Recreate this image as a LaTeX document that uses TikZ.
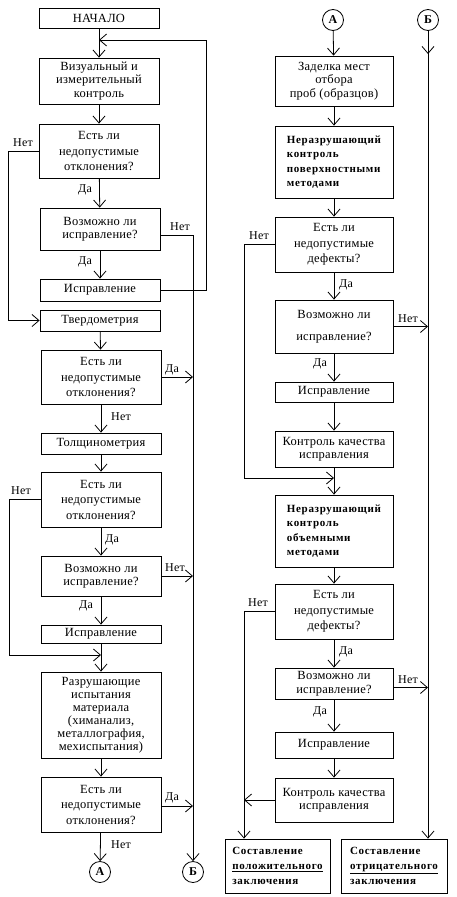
\documentclass[tikz,border=0pt]{standalone}
\usepackage{fontspec}
\setmainfont{Liberation Serif}[LetterSpace=2]
\newfontfamily\spbold[LetterSpace=6]{Liberation Serif}
\usetikzlibrary{arrows.meta}
\tikzset{
  box/.style={draw, line width=0.8pt, minimum width=120, align=center, inner sep=1pt,
    font=\fontsize{12.5}{13.5}\selectfont},
  rbox/.style={box, minimum width=118},
  bbox/.style={rbox, align=left, font=\spbold\bfseries\fontsize{11}{14.5}\selectfont},
  arr/.style={-{Straight Barb[length=7pt,width=12pt]}, line width=0.8pt},
  ln/.style={line width=0.8pt},
  lab/.style={font=\fontsize{12}{13}\selectfont, inner sep=0},
  conn/.style={draw, circle, minimum size=21, inner sep=0, line width=0.8pt,
    font=\bfseries\fontsize{12}{13}\selectfont},
  qfont/.style={font=\fontsize{12.5}{15.5}\selectfont},
}
\begin{document}
\begin{tikzpicture}[x=1pt,y=-1pt]
\useasboundingbox (0,0) rectangle (456,897);
% ---------- left column ----------
\node[box, minimum height=20] (start) at (99,18) {НАЧАЛО};
\node[box, minimum height=46] (vis) at (99,81) {Визуальный и\\измерительный\\контроль};
\node[box, minimum height=54, qfont] (q1) at (99,151) {Есть ли\\недопустимые\\отклонения?};
\node[box, minimum height=42] (p1) at (100,229) {Возможно ли\\исправление?};
\node[box, minimum height=22] (fix1) at (100,290) {Исправление};
\node[box, minimum height=21] (tv) at (100,320.5) {Твердометрия};
\node[box, minimum height=54, qfont] (q2) at (101,377) {Есть ли\\недопустимые\\отклонения?};
\node[box, minimum height=21] (tl) at (101,443.5) {Толщинометрия};
\node[box, minimum height=55, qfont] (q3) at (101,499.5) {Есть ли\\недопустимые\\отклонения?};
\node[box, minimum height=40] (p3) at (101,576) {Возможно ли\\исправление?};
\node[box, minimum height=18] (fix3) at (101,634) {Исправление};
\node[box, minimum height=86, font=\fontsize{12.5}{13}\selectfont] (raz) at (101,715) {Разрушающие\\испытания\\материала\\(химанализ,\\металлография,\\мехиспытания)};
\node[box, minimum height=55, qfont] (q4) at (101,804.5) {Есть ли\\недопустимые\\отклонения?};
\node[conn] (A1) at (100,872) {А};
\node[conn] (B1) at (193,872) {Б};
\coordinate (loopc) at (206,40);
\coordinate (j1) at (99,40);
\coordinate (l1) at (8,0);
\coordinate (l3) at (9,0);
\coordinate (j3) at (101,655);
% connectors left
\draw[arr] (start) -- (vis);
\draw[arr] (vis) -- (q1);
\draw[arr] (q1) -- (p1);
\draw[arr] (p1) -- (fix1);
\draw[arr] (fix1.east) -| (loopc) -- (j1);
\draw[arr] (q1.west) -- (q1.west -| l1) |- (tv.west);
\draw[arr] ([yshift=-6pt]p1.east) -| (B1.north);
\draw[arr] (tv) -- (q2);
\draw[arr] (q2.east) -- (q2.east -| B1);
\draw[arr] (q2) -- (tl);
\draw[arr] (tl) -- (q3);
\draw[arr] (q3.west) -- (q3.west -| l3) |- (j3);
\draw[arr] (q3) -- (p3);
\draw[arr] (p3.east) -- (p3.east -| B1);
\draw[arr] (p3) -- (fix3);
\draw[arr] (fix3) -- (raz);
\draw[arr] (raz) -- (q4);
\draw[arr] ([yshift=-1.5pt]q4.east) -- ([yshift=-1.5pt]q4.east -| B1);
\draw[arr] (q4) -- (A1);
% labels left
\node[lab] at (23,143) {Нет};
\node[lab] at (85,190) {Да};
\node[lab] at (180,227) {Нет};
\node[lab] at (85,262) {Да};
\node[lab] at (172,370) {Да};
\node[lab] at (121,417) {Нет};
\node[lab] at (21,491) {Нет};
\node[lab] at (112,540) {Да};
\node[lab] at (175,568) {Нет};
\node[lab] at (86,606) {Да};
\node[lab] at (172,798) {Да};
\node[lab] at (121,845) {Нет};
% ---------- right column ----------
\node[conn] (A2) at (333,20) {А};
\node[conn] (B2) at (428,20) {Б};
\node[rbox, minimum height=50] (zad) at (334,81) {Заделка мест\\отбора\\проб (образцов)};
\node[bbox, minimum height=72] (nr1) at (334,162) {Неразрушающий\\контроль\\поверхностными\\методами};
\node[rbox, minimum height=55, qfont] (rq1) at (334,244.5) {Есть ли\\недопустимые\\дефекты?};
\node[rbox, minimum height=53] (rp1) at (334,326.5) {Возможно ли\\[9pt]исправление?};
\node[rbox, minimum height=20] (rfix1) at (334,392) {Исправление};
\node[rbox, minimum height=36] (rk1) at (334,449) {Контроль качества\\исправления};
\node[bbox, minimum height=72] (nr2) at (334,531) {Неразрушающий\\контроль\\объемными\\методами};
\node[rbox, minimum height=55, qfont] (rq2) at (334,611.5) {Есть ли\\недопустимые\\дефекты?};
\node[rbox, minimum height=31] (rp2) at (334,683.5) {Возможно ли\\исправление?};
\node[rbox, minimum height=26] (rfix2) at (334,745) {Исправление};
\node[rbox, minimum height=44] (rk2) at (334,800) {Контроль качества\\исправления};
\node[bbox, minimum width=105, minimum height=54, font=\spbold\bfseries\fontsize{11}{15}\selectfont] (pos) at (277.5,866) {Составление\\\underline{положительного}\\заключения};
\node[bbox, minimum width=106, minimum height=54, font=\spbold\bfseries\fontsize{11}{15}\selectfont] (neg) at (394,866) {Составление\\\underline{отрицательного}\\заключения};
\coordinate (rl) at (244,0);
\coordinate (j4) at (334,478);
\coordinate (b2a) at (428,54);
% connectors right
\draw[arr] (A2) -- (zad);
\draw[arr] (zad) -- (nr1);
\draw[arr] (nr1) -- (rq1);
\draw[arr] (rq1) -- (rp1);
\draw[arr] (rp1) -- (rfix1);
\draw[arr] (rfix1) -- (rk1);
\draw[arr] (rk1) -- (nr2);
\draw[arr] (rq1.west) -- (rq1.west -| rl) |- (j4);
\draw[arr] (rp1.east) -- (rp1.east -| B2);
\draw[arr] (nr2) -- (rq2);
\draw[arr] (rq2) -- (rp2);
\draw[arr] (rp2) -- (rfix2);
\draw[arr] (rfix2) -- (rk2);
\draw[arr] (rq2.west) -- (rq2.west -| rl) -- (rl |- pos.north);
\draw[arr] ([yshift=-4pt]rp2.east) -- ([yshift=-4pt]rp2.east -| B2);
\draw[arr] (rk2.west) -- (rk2.west -| rl);
\draw[arr] (B2.south) -- (b2a);
\draw[arr] (B2.south) -- (B2 |- neg.north);
% labels right
\node[lab] at (259,236) {Нет};
\node[lab] at (346,285) {Да};
\node[lab] at (408,319) {Нет};
\node[lab] at (320,364) {Да};
\node[lab] at (258,603) {Нет};
\node[lab] at (346,652) {Да};
\node[lab] at (408,680) {Нет};
\node[lab] at (320,712) {Да};
\end{tikzpicture}
\end{document}
